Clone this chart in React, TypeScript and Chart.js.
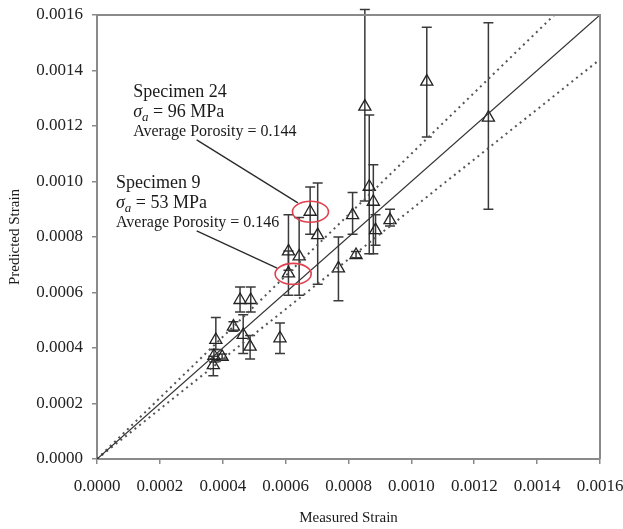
import React, { useEffect, useRef } from 'react';
import { Chart, registerables } from 'chart.js';

Chart.register(...registerables);

// ---- data ----
const measured = [
  0.00037, 0.000372, 0.000378, 0.000398, 0.000434, 0.000455, 0.000489, 0.000465,
  0.000487, 0.000582, 0.000609, 0.000609, 0.000643, 0.000678, 0.000702, 0.000768,
  0.000813, 0.000824, 0.000852, 0.000866, 0.000879, 0.000886, 0.000932, 0.001049, 0.001245,
];
const predicted = [
  0.000338, 0.000372, 0.000429, 0.000368, 0.000477, 0.000573, 0.000573, 0.000447,
  0.000405, 0.000435, 0.000669, 0.000748, 0.00073, 0.000891, 0.000807, 0.000687,
  0.000879, 0.000735, 0.00127, 0.000981, 0.000927, 0.000825, 0.000861, 0.00136, 0.00123,
];
const errLow = [
  0.0003, 0.00035, 0.000395, 0.00036, 0.00046, 0.00053, 0.00053, 0.00038,
  0.00036, 0.00038, 0.00059, 0.00068, 0.00059, 0.00081, 0.00063, 0.00057,
  0.00081, 0.000725, 0.00093, 0.00074, 0.00074, 0.00077, 0.00084, 0.00116, 0.0009,
];
const errHigh = [
  0.00037, 0.000395, 0.00051, 0.000378, 0.000495, 0.00062, 0.00062, 0.00052,
  0.000445, 0.00049, 0.00075, 0.00088, 0.00087, 0.00098, 0.000995, 0.0008,
  0.00096, 0.000748, 0.00162, 0.00124, 0.00106, 0.00088, 0.0009, 0.001556, 0.001572,
];
const axisTicks = [0, 0.0002, 0.0004, 0.0006, 0.0008, 0.001, 0.0012, 0.0014, 0.0016];
const axisMax = 0.0016;
const refSlopes = [1, 1.1, 0.9];
const xTitle = 'Measured Strain';
const yTitle = 'Predicted Strain';

const specimenNames = ['Specimen 24', 'Specimen 9'];
const specimenStress = ['96', '53'];
const specimenPorosity = ['0.144', '0.146'];
const specimenIndex = [13, 10];
// text anchor (data coords) and leader line start/end (data coords)
const labelX = [0.000115, 0.0000604];
const labelY = [0.001305, 0.000977];
const leaderFrom = [[0.000317, 0.00115], [0.000317, 0.000822]];
const leaderTo = [[0.000639, 0.000923], [0.000573, 0.000688]];
const ellipseCenter = [[0.000679, 0.000891], [0.000624, 0.000667]];

const SERIF = '"Liberation Serif", "Times New Roman", Times, serif';

const overlay = {
  id: 'overlay',
  beforeDatasetsDraw(chart: any) {
    const { ctx } = chart;
    const xs = chart.scales.x;
    const ys = chart.scales.y;
    ctx.save();
    ctx.strokeStyle = '#3a3a3a';
    ctx.lineWidth = 1.5;
    for (let i = 0; i < measured.length; i++) {
      const px = xs.getPixelForValue(measured[i]);
      const pl = ys.getPixelForValue(errLow[i]);
      const ph = ys.getPixelForValue(errHigh[i]);
      ctx.beginPath();
      ctx.moveTo(px, pl);
      ctx.lineTo(px, ph);
      ctx.moveTo(px - 5, pl);
      ctx.lineTo(px + 5, pl);
      ctx.moveTo(px - 5, ph);
      ctx.lineTo(px + 5, ph);
      ctx.stroke();
    }
    ctx.restore();
  },
  afterDraw(chart: any) {
    const { ctx, chartArea } = chart;
    const xs = chart.scales.x;
    const ys = chart.scales.y;
    ctx.save();
    // top & right frame
    ctx.strokeStyle = '#8a8a8a';
    ctx.lineWidth = 2;
    ctx.beginPath();
    ctx.moveTo(chartArea.left, chartArea.top);
    ctx.lineTo(chartArea.right, chartArea.top);
    ctx.lineTo(chartArea.right, chartArea.bottom);
    ctx.stroke();

    for (let k = 0; k < specimenNames.length; k++) {
      const tx = xs.getPixelForValue(labelX[k]);
      const ty = ys.getPixelForValue(labelY[k]);
      ctx.fillStyle = '#1a1a1a';
      ctx.textBaseline = 'alphabetic';
      ctx.textAlign = 'left';
      ctx.font = `18px ${SERIF}`;
      ctx.fillText(specimenNames[k], tx, ty);
      // sigma_a line
      const y2 = ty + 20;
      ctx.font = `italic 18px ${SERIF}`;
      ctx.fillText('\u03C3', tx, y2);
      let cx = tx + ctx.measureText('\u03C3').width;
      ctx.font = `italic 13px ${SERIF}`;
      ctx.fillText('a', cx, y2 + 4);
      cx += ctx.measureText('a').width;
      ctx.font = `18px ${SERIF}`;
      ctx.fillText(` = ${specimenStress[k]} MPa`, cx, y2);
      // porosity
      ctx.font = `16px ${SERIF}`;
      ctx.fillText(`Average Porosity = ${specimenPorosity[k]}`, tx, ty + 39);

      // leader line
      ctx.strokeStyle = '#2a2a2a';
      ctx.lineWidth = 1.3;
      ctx.beginPath();
      ctx.moveTo(xs.getPixelForValue(leaderFrom[k][0]), ys.getPixelForValue(leaderFrom[k][1]));
      ctx.lineTo(xs.getPixelForValue(leaderTo[k][0]), ys.getPixelForValue(leaderTo[k][1]));
      ctx.stroke();

      // red ellipse
      ctx.strokeStyle = '#e0404e';
      ctx.lineWidth = 1.6;
      ctx.beginPath();
      ctx.ellipse(
        xs.getPixelForValue(ellipseCenter[k][0]),
        ys.getPixelForValue(ellipseCenter[k][1]),
        18, 10.5, 0, 0, Math.PI * 2
      );
      ctx.stroke();
    }
    ctx.restore();
  },
};

export default function App() {
  const canvasRef = useRef<HTMLCanvasElement | null>(null);

  useEffect(() => {
    document.body.style.margin = '0';
    const canvas = canvasRef.current;
    if (!canvas) return;

    const points = measured.map((m, i) => ({ x: m, y: predicted[i] }));
    const refLines = refSlopes.map((s) => {
      const end = s >= 1 ? { x: axisMax / s, y: axisMax } : { x: axisMax, y: axisMax * s };
      return [{ x: 0, y: 0 }, end];
    });

    const axisCommon = (title: string) => ({
      type: 'linear' as const,
      min: 0,
      max: axisMax,
      afterBuildTicks: (scale: any) => {
        scale.ticks = axisTicks.map((v) => ({ value: v }));
      },
      ticks: {
        color: '#222',
        font: { family: SERIF, size: 17 },
        callback: (v: any) => Number(v).toFixed(4),
      },
      grid: {
        display: true,
        drawOnChartArea: false,
        drawTicks: true,
        tickLength: 5,
        color: '#8a8a8a',
        lineWidth: 1.5,
      },
      border: { display: true, color: '#8a8a8a', width: 2 },
      title: {
        display: true,
        text: title,
        color: '#1a1a1a',
        font: { family: SERIF, size: 15 },
      },
    });

    const xAxis: any = axisCommon(xTitle);
    xAxis.ticks.padding = 12;
    xAxis.ticks.maxRotation = 0;
    xAxis.title.padding = { top: 0, bottom: 2 };
    xAxis.afterFit = (scale: any) => {
      scale.paddingLeft = 0;
      scale.paddingRight = 0;
      scale.height = 70;
    };
    const yAxis: any = axisCommon(yTitle);
    yAxis.ticks.padding = 9;
    yAxis.title.padding = { top: 6, bottom: 0 };
    yAxis.afterFit = (scale: any) => {
      scale.paddingTop = 0;
      scale.paddingBottom = 0;
      scale.width = 97;
    };

    const chart = new Chart(canvas, {
      type: 'scatter',
      data: {
        datasets: [
          {
            data: refLines[0],
            showLine: true,
            borderColor: '#333',
            borderWidth: 1.3,
            pointRadius: 0,
          },
          {
            data: refLines[1],
            showLine: true,
            borderColor: '#555',
            borderWidth: 2,
            borderDash: [2, 4],
            pointRadius: 0,
          },
          {
            data: refLines[2],
            showLine: true,
            borderColor: '#555',
            borderWidth: 2,
            borderDash: [2, 4],
            pointRadius: 0,
          },
          {
            data: points,
            pointStyle: 'triangle',
            pointRadius: 7,
            pointBorderWidth: 1.3,
            borderColor: '#222',
            backgroundColor: 'rgba(255,255,255,0)',
          } as any,
        ],
      },
      options: {
        animation: false,
        responsive: false,
        maintainAspectRatio: false,
        layout: { padding: { top: 15, right: 23, left: 0, bottom: 0 } },
        plugins: { legend: { display: false }, tooltip: { enabled: false } },
        scales: { x: xAxis, y: yAxis },
      },
      plugins: [overlay],
    });

    return () => chart.destroy();
  }, []);

  return (
    <div style={{ width: 623, height: 529, background: '#fff' }}>
      <canvas ref={canvasRef} width={623} height={529} style={{ display: 'block', width: 623, height: 529 }} />
    </div>
  );
}
